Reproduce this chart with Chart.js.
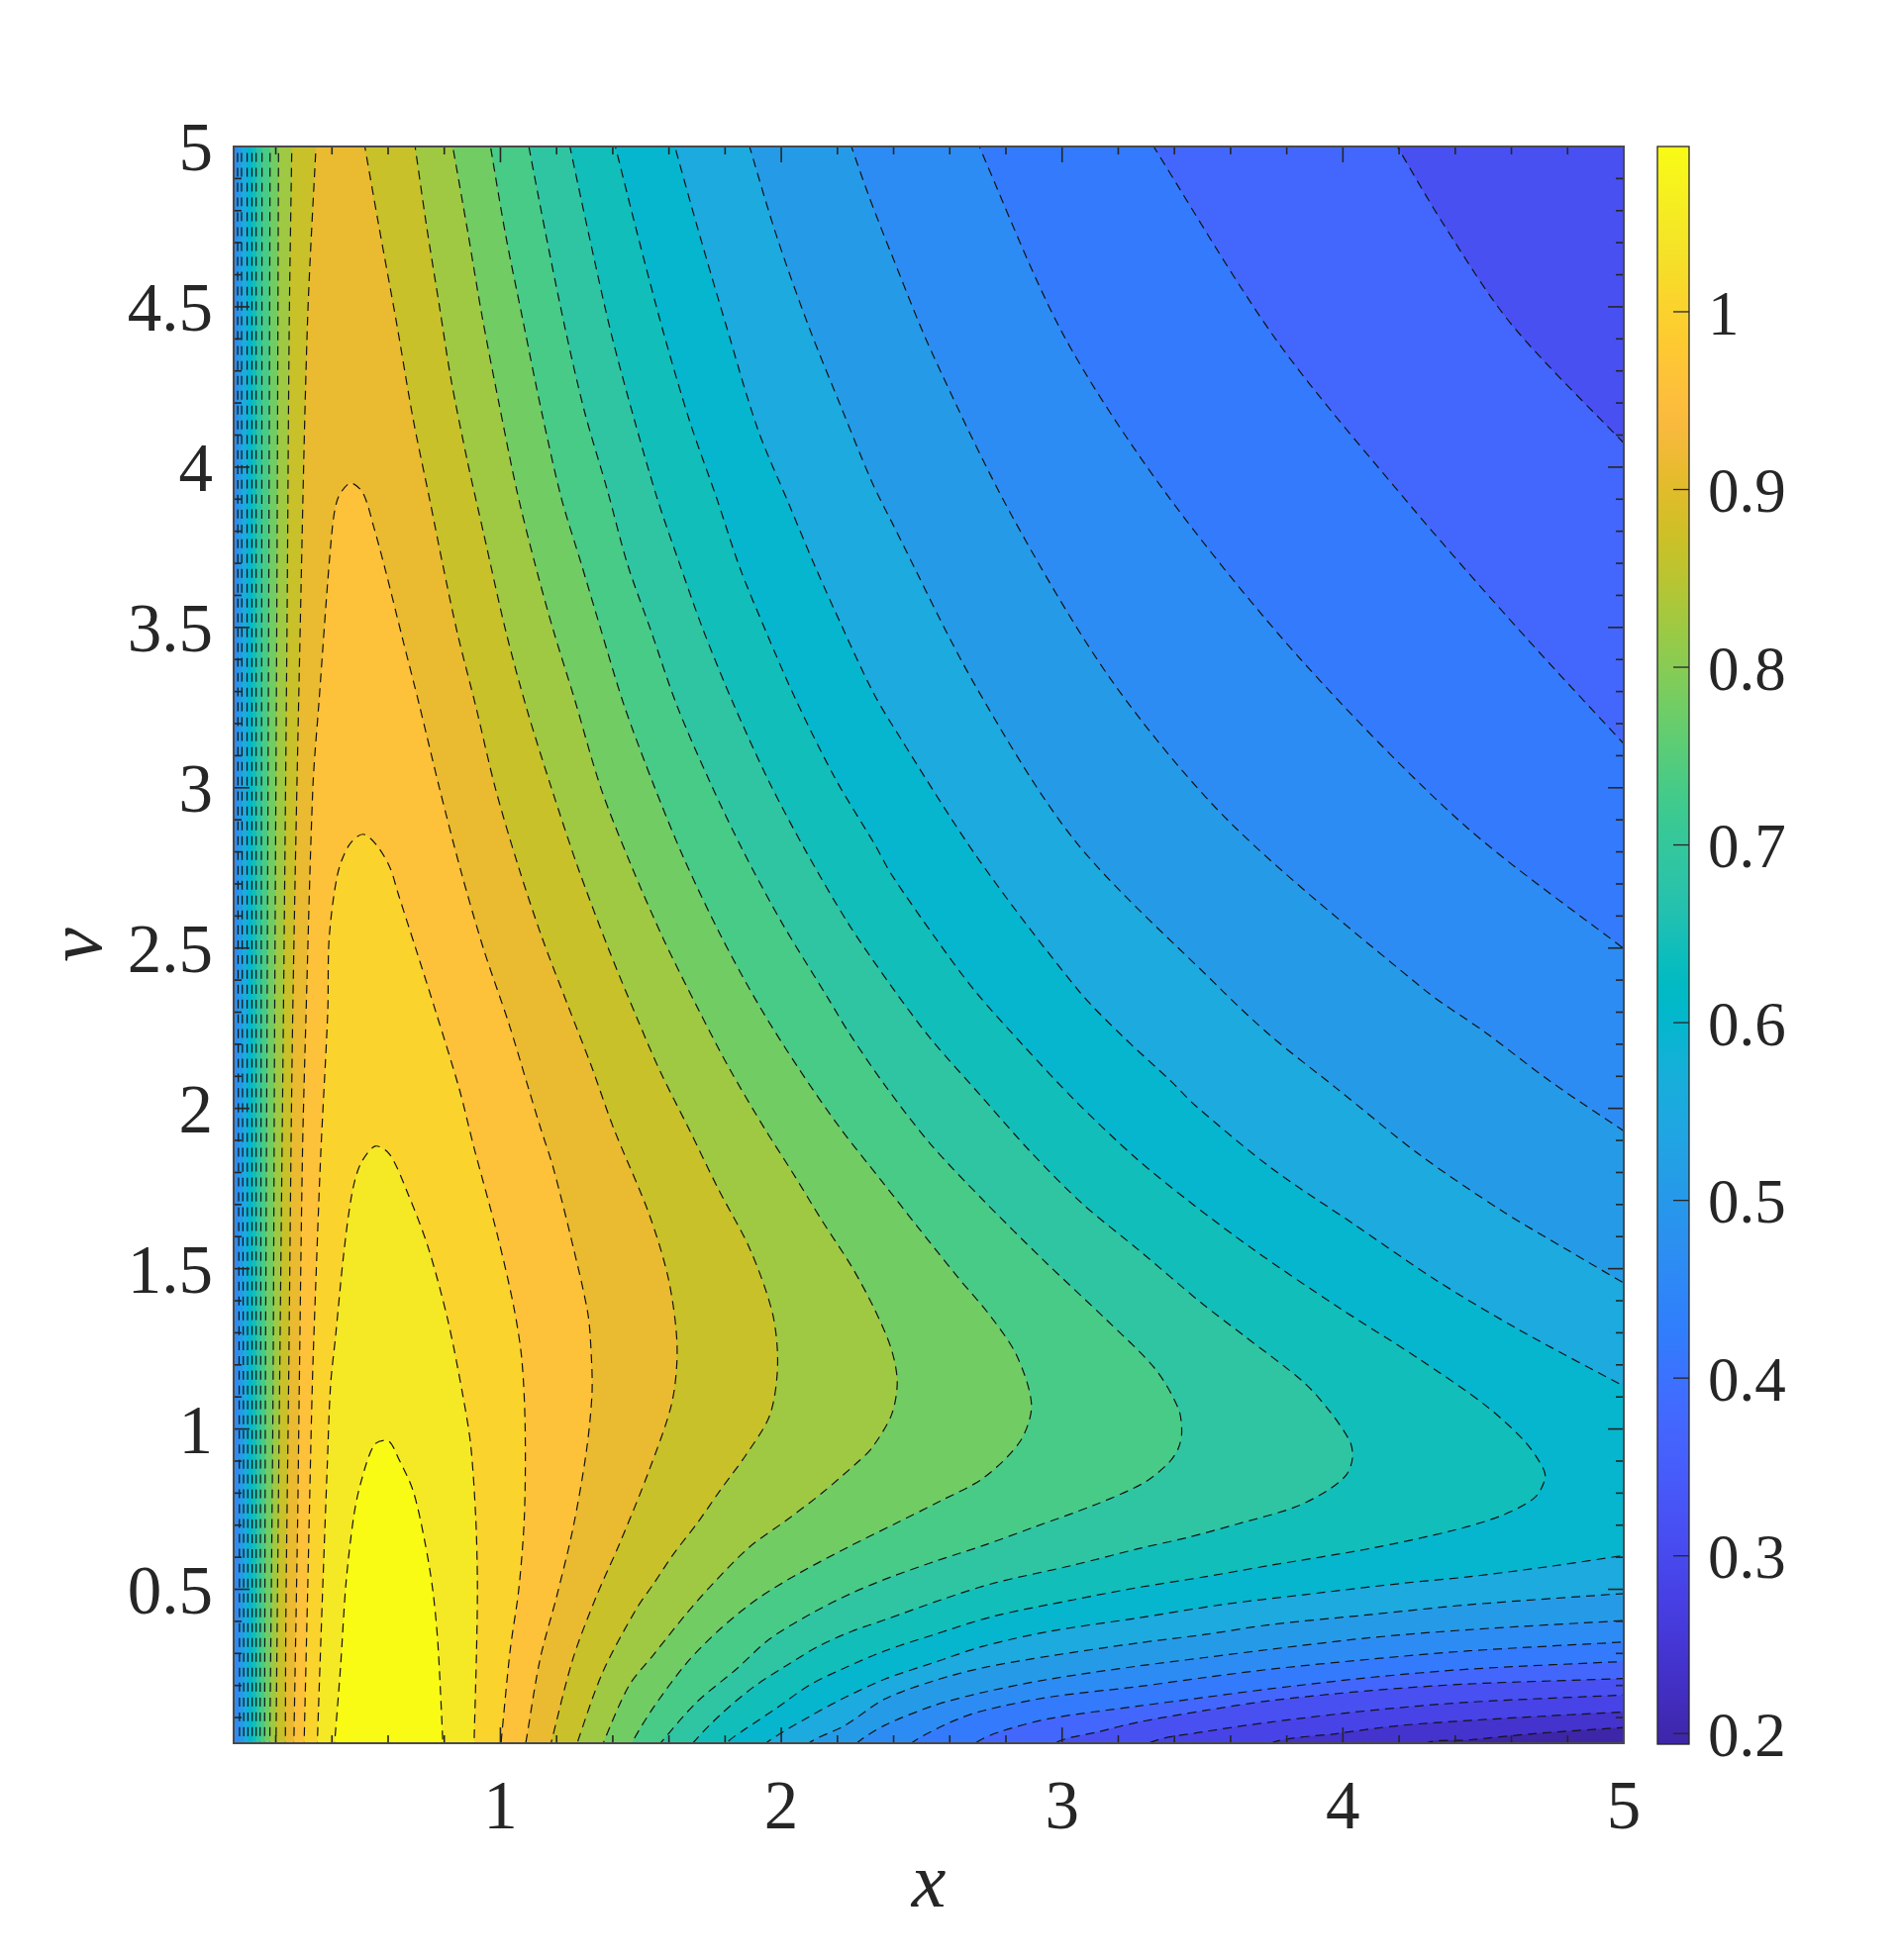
<!DOCTYPE html>
<html>
<head>
<meta charset="utf-8">
<title>Contour x v</title>
<script src="https://cdn.jsdelivr.net/npm/chart.js@4"></script>
<style>
    html, body { margin: 0; background: #fff; }
    #wrap { position: relative; width: 1918px; height: 1980px; }
    canvas { position: absolute; top: 0; }
    #contour-chart { left: 0; }
    #colorbar-chart { left: 1660px; }
</style>
</head>
<body>
<div id="wrap">
    <canvas id="contour-chart" width="1918" height="1980"></canvas>
    <canvas id="colorbar-chart" width="258" height="1980"></canvas>
</div>
<script>
// Axis ticks
const xMajorTicks = [1, 2, 3, 4, 5];
const xMinorTicks = [0.2, 0.4, 0.6, 0.8, 1.2, 1.4, 1.6, 1.8, 2.2, 2.4, 2.6, 2.8, 3.2, 3.4, 3.6, 3.8, 4.2, 4.4, 4.6, 4.8];
const vMajorTicks = [0.5, 1, 1.5, 2, 2.5, 3, 3.5, 4, 4.5, 5];
const vMinorTicks = [0.1, 0.2, 0.3, 0.4, 0.6, 0.7, 0.8, 0.9, 1.1, 1.2, 1.3, 1.4, 1.6, 1.7, 1.8, 1.9, 2.1, 2.2, 2.3, 2.4,
    2.6, 2.7, 2.8, 2.9, 3.1, 3.2, 3.3, 3.4, 3.6, 3.7, 3.8, 3.9, 4.1, 4.2, 4.3, 4.4, 4.6, 4.7, 4.8, 4.9];
const colorbarTicks = [0.2, 0.3, 0.4, 0.5, 0.6, 0.7, 0.8, 0.9, 1];
const colorbarRange = [0.194, 1.093];

// Contour levels, low to high
const levelValues = [0.237, 0.28, 0.323, 0.365, 0.408, 0.451, 0.494, 0.537, 0.579, 0.622,
    0.665, 0.708, 0.751, 0.793, 0.836, 0.879, 0.922, 0.965, 1.007, 1.05];

// Band colours: below level 0, then above each level
const bandColors = ['#3E26A8', '#4433CC', '#4743E7', '#4850F2', '#4367FD', '#337AFD', '#2D8CF3', '#259BE7', '#1CAADF',
    '#05B6CE', '#12BEB9', '#2FC5A2', '#48CB86', '#71CC64', '#9FC942', '#C8C129', '#EABA30', '#FEC13A', '#FAD32D', '#F5E825', '#F9FB15'];

// parula
const colormap = ['#3E26A8', '#402AB4', '#422EC0', '#4332CB', '#4537D5', '#463CDE', '#4741E5', '#4747EB',
    '#484DF0', '#4852F4', '#4758F8', '#465EFB', '#4563FD', '#4269FE', '#3E6FFF', '#3875FE',
    '#327CFC', '#2F81FA', '#2E87F7', '#2D8CF3', '#2B91EF', '#2796EB', '#259BE8', '#23A0E5',
    '#20A5E3', '#1CA9DF', '#18ADDB', '#12B1D6', '#08B5D0', '#01B8CA', '#02BAC3', '#0BBDBD',
    '#19BFB6', '#24C1AE', '#2CC4A7', '#31C69F', '#37C897', '#3FCA8E', '#4ACB84', '#57CC7A',
    '#64CD6F', '#72CD64', '#81CC59', '#8FCB4E', '#9DC943', '#ABC739', '#B9C431', '#C5C22A',
    '#D1BF27', '#DCBD29', '#E6BB2D', '#F0BA36', '#F8BA3D', '#FEBE3C', '#FEC338', '#FEC832',
    '#FCCF2E', '#FAD52C', '#F7DC29', '#F5E327', '#F5E924', '#F6EF20', '#F7F51B', '#F9FB15'];

// Plot outline and far corners, outside the axes
const plotOutline = [[-1, -1], [6, -1], [6, 6], [-1, 6]];
const farTopRight = [[5.6, 5.6]];
const farLeft = [[-0.6, 5.6], [-0.6, -0.6]];

// Contours, [x, v]
const level0Lower = [[4.22, -0.05], [4.295, 0.02], [4.448, 0.03], [4.683, 0.05], [5.05, 0.072]];
const level1Lower = [[3.68, -0.05], [3.743, 0.02], [3.978, 0.05], [4.213, 0.076], [4.565, 0.097], [5.05, 0.12]];
const level2Lower = [[3.25, -0.05], [3.308, 0.02], [3.508, 0.056], [3.743, 0.086], [4.096, 0.122], [4.448, 0.148], [5.05, 0.172]];
const level3Lower = [[2.92, -0.05], [2.974, 0.02], [3.132, 0.056], [3.273, 0.086], [3.508, 0.122], [3.743, 0.153], [4.096, 0.184], [4.448, 0.205], [5.05, 0.223]];
const level3Upper = [[4.16, 5.05], [4.36, 4.755], [4.605, 4.44], [5.05, 4.03]];
const level4Lower = [[2.63, -0.05], [2.692, 0.02], [2.78, 0.056], [2.956, 0.097], [3.273, 0.136], [3.508, 0.163], [3.743, 0.19], [4.096, 0.225], [4.448, 0.251], [5.05, 0.277]];
const level4Upper = [[3.29, 5.05], [3.76, 4.4], [4.25, 3.87], [4.65, 3.47], [5.05, 3.09]];
const level5Lower = [[2.39, -0.05], [2.463, 0.02], [2.604, 0.086], [2.721, 0.122], [2.956, 0.164], [3.273, 0.197], [3.508, 0.225], [3.743, 0.251], [4.096, 0.282], [4.448, 0.308], [5.05, 0.338]];
const level5Upper = [[2.68, 5.05], [3.0, 4.42], [3.36, 3.93], [3.85, 3.4], [4.43, 2.885], [5.05, 2.465]];
const level6Left = [[0.071, -0.05], [0.07, 1], [0.066, 2.3], [0.065, 3.5], [0.064, 5.05]];
const level6Upper = [[2.23, 5.05], [2.31, 4.85], [2.392, 4.665], [2.535, 4.36], [2.82, 3.85], [3.18, 3.33], [3.6, 2.89], [4.29, 2.37], [4.507, 2.237], [4.742, 2.082], [5.05, 1.9]];
const level6Lower = [[2.2, -0.05], [2.269, 0.02], [2.369, 0.076], [2.545, 0.138], [2.721, 0.179], [2.956, 0.22], [3.273, 0.261], [3.508, 0.287], [3.743, 0.313], [4.096, 0.349], [4.448, 0.374], [5.05, 0.405]];
const level7Left = [[0.086, -0.05], [0.085, 1], [0.081, 2.27], [0.079, 3.6], [0.078, 5.05]];
const level7Upper = [[1.87, 5.05], [1.981, 4.727], [2.098, 4.438], [2.216, 4.181], [2.322, 3.955], [2.392, 3.831], [2.69, 3.32], [3.05, 2.83], [3.567, 2.37], [3.743, 2.226], [3.978, 2.062], [4.272, 1.856], [4.565, 1.681], [4.8, 1.558], [5.05, 1.43]];
const level7Lower = [[2.03, -0.05], [2.098, 0.02], [2.228, 0.076], [2.369, 0.158], [2.545, 0.215], [2.721, 0.256], [2.956, 0.292], [3.273, 0.333], [3.508, 0.359], [3.743, 0.39], [4.096, 0.421], [4.448, 0.452], [5.05, 0.49]];
const level8Left = [[0.101, -0.05], [0.1, 1], [0.098, 2.27], [0.098, 5.05]];
const level8Upper = [[1.605, 5.05], [1.705, 4.737], [1.805, 4.438], [1.916, 4.119], [2.028, 3.883], [2.122, 3.687], [2.222, 3.492], [2.322, 3.306], [2.392, 3.2], [2.7, 2.78], [3.056, 2.37], [3.214, 2.226], [3.391, 2.082], [3.473, 2.01], [3.743, 1.815], [4.037, 1.64], [4.33, 1.465], [4.624, 1.311], [5.05, 1.11]];
const level8Lower = [[1.88, -0.05], [1.946, 0.02], [2.098, 0.102], [2.216, 0.158], [2.369, 0.22], [2.545, 0.272], [2.721, 0.323], [2.956, 0.369], [3.273, 0.411], [3.567, 0.452], [3.86, 0.483], [4.213, 0.519], [4.448, 0.539], [4.741, 0.572], [5.05, 0.612]];
const level9Left = [[0.116, -0.05], [0.115, 2.27], [0.115, 5.05]];
const level9Right = [[1.395, 5.05], [1.488, 4.726], [1.581, 4.418], [1.675, 4.14], [1.77, 3.903], [1.852, 3.687], [1.948, 3.482], [2.051, 3.276], [2.192, 3.029], [2.333, 2.823], [2.392, 2.73], [2.55, 2.53], [2.686, 2.37], [2.862, 2.196], [3.05, 2.021], [3.261, 1.846], [3.449, 1.712], [3.684, 1.558], [3.978, 1.383], [4.272, 1.218], [4.507, 1.074], [4.648, 0.961], [4.712, 0.879], [4.72, 0.845], [4.683, 0.786], [4.565, 0.73], [4.389, 0.683], [4.095, 0.627], [3.743, 0.575], [3.508, 0.539], [3.273, 0.506], [3.038, 0.467], [2.756, 0.416], [2.545, 0.359], [2.369, 0.308], [2.216, 0.251], [2.098, 0.2], [1.981, 0.128], [1.875, 0.066], [1.805, 0.02], [1.76, -0.05]];
const level10Left = [[0.13, -0.05], [0.13, 2.27], [0.13, 5.05]];
const level10Right = [[1.235, 5.05], [1.317, 4.716], [1.394, 4.418], [1.476, 4.15], [1.558, 3.903], [1.634, 3.708], [1.722, 3.492], [1.828, 3.265], [1.957, 3.018], [2.087, 2.803], [2.239, 2.576], [2.392, 2.381], [2.533, 2.216], [2.709, 2.041], [2.886, 1.866], [3.073, 1.702], [3.273, 1.558], [3.496, 1.393], [3.649, 1.29], [3.86, 1.146], [3.954, 1.054], [4.025, 0.961], [4.034, 0.91], [4.013, 0.858], [3.943, 0.807], [3.825, 0.755], [3.625, 0.704], [3.449, 0.662], [3.273, 0.627], [3.038, 0.575], [2.756, 0.519], [2.568, 0.467], [2.369, 0.405], [2.251, 0.369], [2.134, 0.323], [2.016, 0.261], [1.899, 0.194], [1.781, 0.107], [1.685, 0.02], [1.63, -0.05]];
const level11Left = [[0.144, -0.05], [0.146, 1.08], [0.148, 2.27], [0.15, 3.6], [0.151, 5.05]];
const level11Right = [[1.09, 5.05], [1.159, 4.737], [1.229, 4.438], [1.3, 4.171], [1.382, 3.924], [1.452, 3.698], [1.535, 3.492], [1.629, 3.255], [1.746, 3.018], [1.864, 2.803], [2.004, 2.576], [2.169, 2.34], [2.24, 2.237], [2.369, 2.072], [2.533, 1.887], [2.721, 1.712], [2.933, 1.527], [3.156, 1.342], [3.332, 1.187], [3.414, 1.064], [3.426, 0.992], [3.414, 0.94], [3.379, 0.894], [3.291, 0.832], [3.121, 0.765], [2.897, 0.693], [2.721, 0.637], [2.557, 0.59], [2.392, 0.539], [2.251, 0.488], [2.11, 0.426], [1.957, 0.344], [1.84, 0.251], [1.699, 0.148], [1.57, 0.02], [1.51, -0.05]];
const level12Left = [[0.16, -0.05], [0.163, 1.08], [0.169, 2.27], [0.175, 3.6], [0.18, 5.05]];
const level12Right = [[0.955, 5.05], [1.018, 4.726], [1.082, 4.449], [1.147, 4.171], [1.217, 3.903], [1.288, 3.698], [1.358, 3.492], [1.441, 3.255], [1.546, 3.008], [1.652, 2.782], [1.781, 2.545], [1.922, 2.319], [2.063, 2.123], [2.21, 1.938], [2.357, 1.774], [2.486, 1.63], [2.627, 1.475], [2.745, 1.352], [2.839, 1.228], [2.891, 1.074], [2.85, 0.961], [2.721, 0.848], [2.568, 0.776], [2.404, 0.704], [2.239, 0.632], [2.063, 0.55], [1.91, 0.467], [1.781, 0.375], [1.664, 0.271], [1.546, 0.133], [1.467, 0.02], [1.43, -0.05]];
const level13Left = [[0.178, -0.05], [0.19, 1.08], [0.196, 2.27], [0.204, 3.6], [0.21, 5.05]];
const level13Right = [[0.82, 5.05], [0.883, 4.737], [0.935, 4.469], [0.994, 4.202], [1.059, 3.924], [1.123, 3.698], [1.188, 3.492], [1.264, 3.276], [1.358, 2.998], [1.464, 2.761], [1.582, 2.525], [1.711, 2.298], [1.816, 2.123], [1.94, 1.938], [2.04, 1.8], [2.145, 1.65], [2.251, 1.506], [2.333, 1.372], [2.392, 1.249], [2.413, 1.146], [2.392, 1.043], [2.322, 0.94], [2.275, 0.899], [2.146, 0.801], [2.016, 0.714], [1.887, 0.632], [1.758, 0.519], [1.664, 0.426], [1.546, 0.297], [1.458, 0.2], [1.366, 0.02], [1.34, -0.05]];
const level14Left = [[0.2, -0.05], [0.213, 1.08], [0.227, 2.27], [0.24, 3.5], [0.248, 4.45], [0.258, 5.05]];
const level14Right = [[0.688, 5.05], [0.736, 4.757], [0.783, 4.5], [0.824, 4.274], [0.883, 4.016], [0.941, 3.79], [1.018, 3.492], [1.094, 3.245], [1.182, 2.998], [1.276, 2.751], [1.382, 2.504], [1.488, 2.278], [1.57, 2.113], [1.67, 1.938], [1.775, 1.75], [1.889, 1.56], [1.969, 1.36], [1.987, 1.2], [1.96, 1.045], [1.875, 0.92], [1.781, 0.807], [1.699, 0.704], [1.617, 0.611], [1.546, 0.518], [1.482, 0.436], [1.364, 0.241], [1.273, 0.02], [1.25, -0.05]];
const level15Left = [[0.234, -0.05], [0.236, 0.416], [0.245, 1.08], [0.26, 2.27], [0.287, 3.5], [0.313, 4.454], [0.346, 5.05]];
const level15Right = [[0.507, 5.05], [0.565, 4.762], [0.63, 4.45], [0.689, 4.15], [0.747, 3.903], [0.794, 3.698], [0.847, 3.481], [0.912, 3.255], [0.982, 2.998], [1.065, 2.751], [1.147, 2.535], [1.241, 2.319], [1.323, 2.134], [1.403, 1.938], [1.529, 1.671], [1.599, 1.465], [1.629, 1.259], [1.611, 1.084], [1.529, 0.87], [1.423, 0.64], [1.34, 0.475], [1.258, 0.283], [1.18, 0.02], [1.16, -0.05]];
const level16 = [[0.263, -0.05], [0.278, 0.724], [0.283, 1.084], [0.295, 1.856], [0.307, 2.27], [0.332, 3.0], [0.354, 3.27], [0.398, 3.78], [0.42, 3.9], [0.465, 3.95], [0.51, 3.92], [0.55, 3.81], [0.59, 3.68], [0.65, 3.47], [0.712, 3.255], [0.783, 2.998], [0.859, 2.741], [0.941, 2.494], [1.029, 2.267], [1.1, 2.062], [1.143, 1.938], [1.188, 1.815], [1.259, 1.568], [1.311, 1.362], [1.323, 1.239], [1.326, 1.11], [1.306, 0.93], [1.259, 0.693], [1.2, 0.477], [1.141, 0.282], [1.09, 0.02], [1.075, -0.05]];
const level17 = [[0.299, -0.05], [0.313, 0.477], [0.33, 1.136], [0.342, 1.444], [0.36, 1.856], [0.385, 2.3], [0.39, 2.53], [0.42, 2.73], [0.46, 2.82], [0.51, 2.855], [0.56, 2.82], [0.607, 2.75], [0.636, 2.669], [0.7, 2.494], [0.771, 2.298], [0.853, 2.062], [0.906, 1.877], [0.988, 1.609], [1.047, 1.383], [1.076, 1.218], [1.088, 1.002], [1.085, 0.724], [1.065, 0.498], [1.035, 0.313], [1.002, 0.02], [0.995, -0.05]];
const level18 = [[0.345, -0.05], [0.366, 0.477], [0.383, 0.879], [0.395, 1.136], [0.413, 1.29], [0.442, 1.547], [0.471, 1.733], [0.501, 1.825], [0.554, 1.882], [0.606, 1.856], [0.671, 1.733], [0.742, 1.568], [0.812, 1.342], [0.865, 1.11], [0.894, 0.951], [0.912, 0.724], [0.918, 0.519], [0.915, 0.313], [0.906, 0.02], [0.904, -0.05]];
const level19 = [[0.403, -0.05], [0.43, 0.251], [0.45, 0.519], [0.477, 0.724], [0.501, 0.827], [0.551, 0.951], [0.601, 0.963], [0.636, 0.91], [0.689, 0.807], [0.73, 0.652], [0.759, 0.498], [0.777, 0.333], [0.795, 0.02], [0.798, -0.05]];

const plotArea = { left: 236, top: 148, right: 1640, bottom: 1761 };
const INK = '#262626';
const SERIF = '"Liberation Serif", "Times New Roman", serif';

// Repeat the ends of each piece so the smoothing does not bend across the joins
function joinParts(...parts) {
    const points = [];
    parts.forEach(part => {
        points.push({ x: part[0][0], y: part[0][1] });
        part.forEach(p => points.push({ x: p[0], y: p[1] }));
        const last = part[part.length - 1];
        points.push({ x: last[0], y: last[1] });
    });
    return points;
}

const reversed = part => part.slice().reverse();

// Region above each level, low to high
const levelRegions = [
    joinParts(level0Lower, farTopRight, farLeft),
    joinParts(level1Lower, farTopRight, farLeft),
    joinParts(level2Lower, farTopRight, farLeft),
    joinParts(level3Lower, reversed(level3Upper), farLeft),
    joinParts(level4Lower, reversed(level4Upper), farLeft),
    joinParts(level5Lower, reversed(level5Upper), farLeft),
    joinParts(level6Left, level6Upper, reversed(level6Lower)),
    joinParts(level7Left, level7Upper, reversed(level7Lower)),
    joinParts(level8Left, level8Upper, reversed(level8Lower)),
    joinParts(level9Left, level9Right),
    joinParts(level10Left, level10Right),
    joinParts(level11Left, level11Right),
    joinParts(level12Left, level12Right),
    joinParts(level13Left, level13Right),
    joinParts(level14Left, level14Right),
    joinParts(level15Left, level15Right),
    joinParts(level16),
    joinParts(level17),
    joinParts(level18),
    joinParts(level19)
];

const contourDatasets = [{
    label: 'base',
    data: joinParts(plotOutline),
    showLine: true,
    fill: 'shape',
    backgroundColor: bandColors[0],
    borderWidth: 0,
    pointRadius: 0,
    order: 100
}];

levelRegions.forEach((region, i) => {
    contourDatasets.push({
        label: String(levelValues[i]),
        data: region,
        showLine: true,
        fill: 'shape',
        backgroundColor: bandColors[i + 1],
        borderColor: '#141414',
        borderWidth: 1.2,
        borderDash: [9, 6],
        tension: 0.3,
        capBezierPoints: false,
        pointRadius: 0,
        order: 50 - i
    });
});

// Inward ticks on all four sides and the box
const frameTicksPlugin = {
    id: 'frameTicks',
    afterDatasetsDraw(chart) {
        const { ctx, chartArea: a, scales } = chart;
        const tick = (x0, y0, x1, y1) => {
            ctx.beginPath();
            ctx.moveTo(x0, y0);
            ctx.lineTo(x1, y1);
            ctx.stroke();
        };
        ctx.save();
        ctx.strokeStyle = INK;
        ctx.lineWidth = 1.6;
        [[xMinorTicks, 8], [xMajorTicks, 16]].forEach(([values, len]) => {
            values.forEach(value => {
                const px = scales.x.getPixelForValue(value);
                tick(px, a.bottom, px, a.bottom - len);
                tick(px, a.top, px, a.top + len);
            });
        });
        [[vMinorTicks, 8], [vMajorTicks, 16]].forEach(([values, len]) => {
            values.forEach(value => {
                const py = scales.y.getPixelForValue(value);
                tick(a.left, py, a.left + len, py);
                tick(a.right, py, a.right - len, py);
            });
        });
        ctx.strokeStyle = '#4a4a4a';
        ctx.lineWidth = 2;
        ctx.strokeRect(a.left, a.top, a.right - a.left, a.bottom - a.top);
        ctx.restore();
    }
};

new Chart(document.getElementById('contour-chart'), {
    type: 'scatter',
    data: { datasets: contourDatasets },
    plugins: [frameTicksPlugin],
    options: {
        responsive: false,
        animation: false,
        events: [],
        layout: { padding: { left: 0, top: plotArea.top, right: 1918 - plotArea.right, bottom: 0 } },
        plugins: { legend: { display: false }, tooltip: { enabled: false } },
        scales: {
            x: {
                type: 'linear',
                min: 0.05,
                max: 5,
                grid: { display: false, drawTicks: false },
                border: { display: false },
                afterBuildTicks(axis) { axis.ticks = xMajorTicks.map(value => ({ value })); },
                afterFit(axis) { axis.height = 1980 - plotArea.bottom; },
                ticks: {
                    padding: 26,
                    autoSkip: false,
                    maxRotation: 0,
                    color: INK,
                    font: { family: SERIF, size: 69 },
                    callback: value => String(value)
                },
                title: {
                    display: true,
                    text: 'x',
                    color: INK,
                    font: { family: SERIF, size: 78, style: 'italic' },
                    padding: { top: 0, bottom: 28 }
                }
            },
            y: {
                type: 'linear',
                min: 0.02,
                max: 5,
                grid: { display: false, drawTicks: false },
                border: { display: false },
                afterBuildTicks(axis) { axis.ticks = vMajorTicks.map(value => ({ value })); },
                afterFit(axis) { axis.width = plotArea.left; },
                ticks: {
                    padding: 21,
                    labelOffset: 6,
                    autoSkip: false,
                    color: INK,
                    font: { family: SERIF, size: 69 },
                    callback: value => String(value)
                },
                title: {
                    display: true,
                    text: 'v',
                    color: INK,
                    font: { family: SERIF, size: 78, style: 'italic' },
                    padding: { top: 35, bottom: 0 }
                }
            }
        }
    }
});

// Colorbar
const colorbarFrame = {
    id: 'colorbarFrame',
    afterDatasetsDraw(chart) {
        const { ctx, chartArea: a, scales } = chart;
        ctx.save();
        ctx.strokeStyle = INK;
        ctx.lineWidth = 1.3;
        colorbarTicks.forEach(value => {
            const py = scales.y.getPixelForValue(value);
            ctx.beginPath();
            ctx.moveTo(a.right, py);
            ctx.lineTo(a.right - 16, py);
            ctx.stroke();
        });
        ctx.strokeRect(a.left, a.top, a.right - a.left, a.bottom - a.top);
        ctx.restore();
    }
};

new Chart(document.getElementById('colorbar-chart'), {
    type: 'bar',
    data: {
        labels: ['z'],
        datasets: [{
            data: [colorbarRange],
            barPercentage: 1,
            categoryPercentage: 1,
            backgroundColor(context) {
                const area = context.chart.chartArea;
                if (!area) return colormap[0];
                const gradient = context.chart.ctx.createLinearGradient(0, area.bottom, 0, area.top);
                colormap.forEach((color, i) => gradient.addColorStop(i / (colormap.length - 1), color));
                return gradient;
            }
        }]
    },
    plugins: [colorbarFrame],
    options: {
        responsive: false,
        animation: false,
        events: [],
        layout: { padding: { left: 14, top: 148, right: 0, bottom: 1980 - 1762 } },
        plugins: { legend: { display: false }, tooltip: { enabled: false } },
        scales: {
            x: { display: false },
            y: {
                position: 'right',
                min: colorbarRange[0],
                max: colorbarRange[1],
                grid: { display: false, drawTicks: false },
                border: { display: false },
                afterBuildTicks(axis) { axis.ticks = colorbarTicks.map(value => ({ value })); },
                afterFit(axis) { axis.width = 212; },
                ticks: {
                    padding: 19,
                    labelOffset: 6,
                    autoSkip: false,
                    color: INK,
                    font: { family: SERIF, size: 63 },
                    callback: value => String(value)
                }
            }
        }
    }
});
</script>
</body>
</html>
